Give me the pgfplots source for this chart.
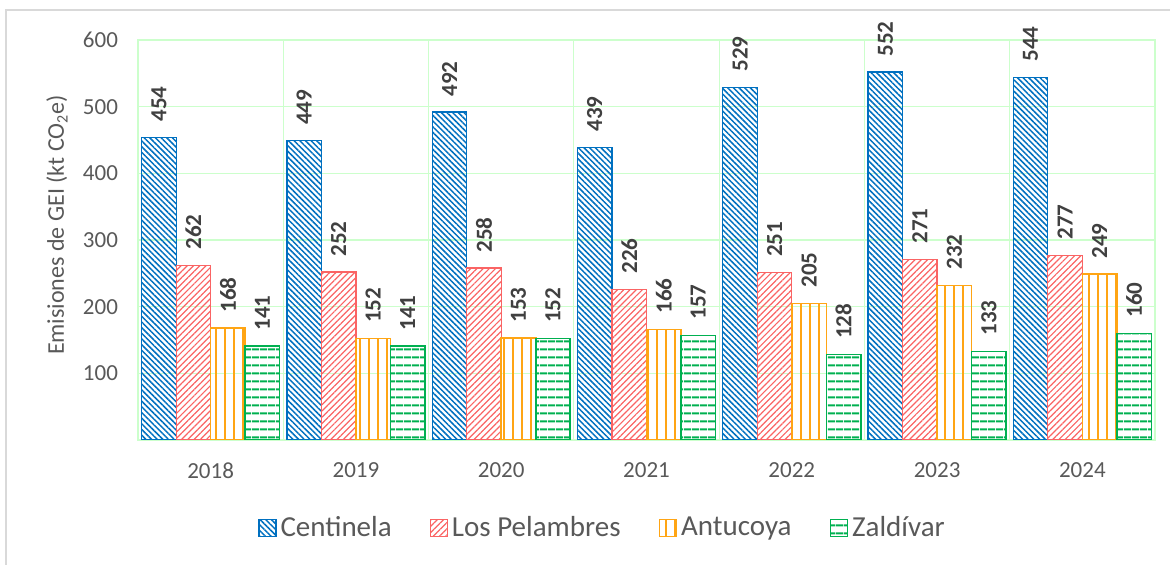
\documentclass[border=0pt]{standalone}
\usepackage{fontspec}
\setmainfont{Carlito}
\usepackage{pgfplots}
\pgfplotsset{compat=1.18}
\usetikzlibrary{patterns.meta}
\definecolor{cblue}{RGB}{0,112,192}
\definecolor{cred}{RGB}{250,100,100}
\definecolor{corange}{RGB}{255,165,20}
\definecolor{cgreen}{RGB}{0,176,80}
\definecolor{gridg}{RGB}{204,255,204}
\definecolor{txt}{RGB}{89,89,89}
\definecolor{lbl}{RGB}{64,64,64}
\definecolor{framec}{RGB}{217,217,217}
\begin{document}
\begin{tikzpicture}[x=1pt,y=1pt]
\path[use as bounding box] (0,0) rectangle (585,282.5);
\draw[framec,line width=0.8pt] (3,0) -- (3,277.5) -- (585,277.5);
\begin{axis}[
  at={(69pt,62.5pt)}, anchor=south west,
  scale only axis, width=508.5pt, height=200pt,
  xmin=-0.5, xmax=6.5, ymin=0, ymax=600,
  ybar=0pt, bar width=0.2375,
  xtick={0,...,6},
  xticklabels={2018,2019,2020,2021,2022,2023,2024},
  minor xtick={0.5,1.5,...,5.5},
  ytick={100,200,...,600},
  ymajorgrids, xminorgrids,
  grid style={gridg, line width=0.6pt},
  minor grid style={gridg, line width=0.6pt},
  major tick length=0pt, minor tick length=0pt,
  tick style={draw=none},
  axis line style={gridg, line width=0.6pt},
  /pgf/number format/assume math mode=true,
  ticklabel style={font=\fontsize{11.5}{13}\selectfont, text=txt},
  xticklabel style={yshift=-8pt},
  yticklabel style={xshift=-6.5pt},
  ylabel={Emisiones de GEI (kt CO\textsubscript{2}e)},
  ylabel style={at={(axis description cs:-0.0797,0.5375)}, anchor=center, font=\fontsize{12}{14}\selectfont, text=txt},
  nodes near coords,
  every node near coord/.append style={rotate=90, anchor=west, outer xsep=4.5pt, font=\fontsize{11.5}{13}\selectfont\bfseries, text=lbl},
  legend columns=4,
  legend style={at={(0.112,-0.22)}, anchor=west, draw=none, fill=none, font=\fontsize{14.5}{16}\selectfont, text=txt,
    /tikz/every even column/.append style={column sep=17pt}},
  legend image code/.code={\draw[#1] (0pt,-4.25pt) rectangle (8.5pt,4.25pt);},
]
\addplot[draw=cblue, line width=0.6pt, pattern={Lines[angle=-45,distance=2pt,line width=0.75pt]}, pattern color=cblue]
  coordinates {(0,454) (1,449) (2,492) (3,439) (4,529) (5,552) (6,544)};
\addplot[draw=cred, line width=0.6pt, pattern={Lines[angle=45,distance=2.2pt,line width=0.6pt]}, pattern color=cred]
  coordinates {(0,262) (1,252) (2,258) (3,226) (4,251) (5,271) (6,277)};
\addplot[draw=corange, line width=0.8pt, pattern={Lines[angle=90,distance=4.5pt,line width=1pt]}, pattern color=corange]
  coordinates {(0,168) (1,152) (2,153) (3,166) (4,205) (5,232) (6,249)};
\addplot[draw=cgreen, line width=0.8pt, pattern={Lines[angle=0,distance=4pt,line width=1.1pt]}, pattern color=cgreen]
  coordinates {(0,141) (1,141) (2,152) (3,157) (4,128) (5,133) (6,160)};
\legend{Centinela, Los Pelambres, Antucoya, Zaldívar}
\end{axis}
\end{tikzpicture}
\end{document}
